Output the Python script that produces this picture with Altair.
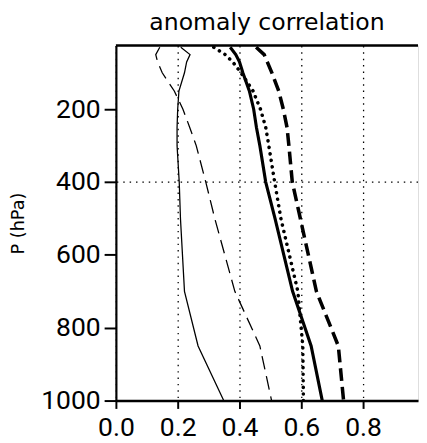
import altair as alt
import pandas as pd

# pressure levels (hPa)
levels = [30, 50, 70, 100, 150, 200, 250, 300, 400, 500, 700, 850, 1000]

# anomaly correlation profiles
thin_solid = [0.21, 0.24, 0.229, 0.222, 0.204, 0.2, 0.198, 0.198, 0.205, 0.209, 0.222, 0.266, 0.349]
thin_dashed = [0.142, 0.129, 0.135, 0.15, 0.189, 0.217, 0.239, 0.26, 0.291, 0.32, 0.385, 0.466, 0.504]
thick_solid = [0.37, 0.388, 0.40, 0.411, 0.432, 0.446, 0.455, 0.466, 0.485, 0.515, 0.572, 0.632, 0.668]
thick_dotted = [0.317, 0.354, 0.378, 0.405, 0.444, 0.468, 0.485, 0.495, 0.514, 0.534, 0.589, 0.605, 0.607]
thick_dashed = [0.454, 0.48, 0.49, 0.505, 0.527, 0.542, 0.554, 0.56, 0.571, 0.597, 0.649, 0.72, 0.737]

series = {
    "thin_solid": thin_solid,
    "thin_dashed": thin_dashed,
    "thick_solid": thick_solid,
    "thick_dotted": thick_dotted,
    "thick_dashed": thick_dashed,
}

x_ticks = [0.0, 0.2, 0.4, 0.6, 0.8]
y_ticks = [200, 400, 600, 800, 1000]
x_domain = [0.0, 0.978]
y_domain = [1000, 25]
grid_level = 400

rows = []
for name, vals in series.items():
    for i, (p, r) in enumerate(zip(levels, vals)):
        rows.append({"series": name, "p": p, "r": r, "idx": i})
df = pd.DataFrame(rows)

LABEL_FONT = "Roboto"

x_enc = alt.X(
    "r:Q",
    scale=alt.Scale(domain=x_domain, nice=False, zero=False),
    axis=alt.Axis(
        values=x_ticks, format=".1f", title=None,
        grid=True, gridDash=[1.5, 5], gridColor="black", gridWidth=1.3,
        domainColor="black", domainWidth=2.5,
        tickColor="black", tickWidth=2, tickSize=8,
        labelFont=LABEL_FONT, labelFontSize=27, labelColor="black",
        labelPadding=7, labelFlush=False, labelOverlap=False,
    ),
)
y_enc = alt.Y(
    "p:Q",
    scale=alt.Scale(domain=y_domain, nice=False, zero=False),
    axis=alt.Axis(
        values=y_ticks, format="d", title="P (hPa)", grid=False,
        domainColor="black", domainWidth=2.2,
        tickColor="black", tickWidth=2, tickSize=12,
        labelFont=LABEL_FONT, labelFontSize=27, labelColor="black",
        labelPadding=4, labelFlush=False, labelOverlap=False,
        titleFont="DejaVu Sans", titleFontSize=18, titleFontWeight="normal",
        titleColor="black", titleAngle=270, titleX=-94, titleY=181,
        titleAlign="center", titleBaseline="alphabetic",
    ),
)

base = alt.Chart(df).encode(x=x_enc, y=y_enc, order=alt.Order("idx:Q"))

def layer(name, **kw):
    return base.transform_filter(alt.datum.series == name).mark_line(color="black", clip=True, **kw)

l1 = layer("thin_solid", strokeWidth=1.3)
l2 = layer("thin_dashed", strokeWidth=1.3, strokeDash=[14, 7])
l3 = layer("thick_solid", strokeWidth=3.2)
l4 = layer("thick_dotted", strokeWidth=3.6, strokeDash=[0.1, 6.6], strokeCap="round")
l5 = layer("thick_dashed", strokeWidth=3.6, strokeDash=[13, 6])

grid400 = alt.Chart(pd.DataFrame({"p": [grid_level]})).mark_rule(
    color="black", strokeWidth=1.3, strokeDash=[1.5, 5]
).encode(y=alt.Y("p:Q"))

top_border = alt.Chart(pd.DataFrame({"p": [y_domain[1]]})).mark_rule(
    color="black", strokeWidth=2.5
).encode(y=alt.Y("p:Q"))

chart = alt.layer(l1, l2, l3, l4, l5, grid400, top_border).properties(
    width=308,
    height=362,
    title=alt.TitleParams(
        "anomaly correlation", font="DejaVu Sans", fontSize=24,
        fontWeight="normal", color="black", anchor="middle",
        baseline="alphabetic", offset=14, dy=23,
    ),
    autosize=alt.AutoSizeParams(type="none"),
    padding={"left": 110, "top": 34, "right": 1, "bottom": 37},
).configure_view(stroke=None).configure(background="white")

chart.save("out.html", embed_options={"renderer": "svg", "actions": False})
